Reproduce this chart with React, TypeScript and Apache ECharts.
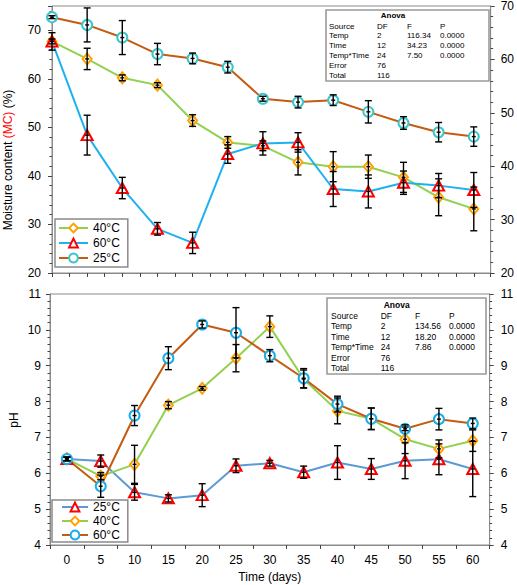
import React, { useEffect, useRef } from 'react';
import * as echarts from 'echarts';

const FONT = '"Liberation Sans", Arial, Helvetica, sans-serif';

// ---------- data ----------
const days = [0, 5, 10, 15, 20, 25, 30, 35, 40, 45, 50, 55, 60];
const dayLabels = ['0', '5', '10', '15', '20', '25', '30', '35', '40', '45', '50', '55', '60'];

// Moisture content (%)
const mc40 = [67.7, 64.1, 60.2, 58.7, 51.4, 46.9, 46.2, 42.8, 41.9, 41.9, 39.7, 35.6, 33.2];
const mc40Err = [0.5, 2.2, 0.6, 0.5, 1.2, 1.2, 1.0, 2.6, 3.1, 2.4, 3.1, 3.8, 4.5];
const mc60 = [67.7, 48.4, 37.5, 29.1, 26.2, 44.5, 46.7, 46.9, 37.3, 36.8, 38.6, 38.0, 37.1];
const mc60Err = [1.8, 4.1, 2.2, 1.3, 2.2, 1.9, 2.4, 2.0, 3.6, 3.4, 2.4, 2.5, 3.6];
const mc25 = [72.7, 71.1, 68.5, 65.1, 64.2, 62.4, 55.9, 55.2, 55.6, 53.2, 50.9, 49.0, 48.1];
const mc25Err = [0.3, 3.5, 3.5, 2.2, 1.1, 1.2, 0.5, 1.2, 1.1, 2.3, 1.3, 2.0, 2.0];

// pH
const ph25 = [6.40, 6.34, 5.47, 5.30, 5.39, 6.21, 6.28, 6.03, 6.30, 6.12, 6.35, 6.39, 6.12];
const ph25Err = [0.05, 0.17, 0.22, 0.1, 0.32, 0.19, 0.08, 0.17, 0.47, 0.29, 0.5, 0.43, 0.77];
const ph40 = [6.40, 5.92, 6.25, 7.90, 8.37, 9.21, 10.09, 8.63, 7.74, 7.52, 6.95, 6.68, 6.91];
const ph40Err = [0.05, 0.1, 0.53, 0.1, 0.05, 0.38, 0.3, 0.25, 0.36, 0.3, 0.4, 0.25, 0.3];
const ph60 = [6.40, 5.64, 7.61, 9.21, 10.15, 9.92, 9.28, 8.65, 7.93, 7.52, 7.24, 7.51, 7.39];
const ph60Err = [0.05, 0.31, 0.28, 0.32, 0.1, 0.7, 0.17, 0.27, 0.22, 0.3, 0.05, 0.3, 0.15];

const topLegend = ['40°C', '60°C', '25°C'];
const bottomLegend = ['pH 25°C', 'pH 40°C', 'pH 60°C'];

// ANOVA tables
const anovaTitle = 'Anova';
const anovaHeader = ['Source', 'DF', 'F', 'P'];
const anovaTopRows = [
  ['Temp', '2', '116.34', '0.0000'],
  ['Time', '12', '34.23', '0.0000'],
  ['Temp*Time', '24', '7.50', '0.0000'],
  ['Error', '76', '', ''],
  ['Total', '116', '', ''],
];
const anovaBottomRows = [
  ['Temp', '2', '134.56', '0.0000'],
  ['Time', '12', '18.20', '0.0000'],
  ['Temp*Time', '24', '7.86', '0.0000'],
  ['Error', '76', '', ''],
  ['Total', '116', '', ''],
];

const topYTicksMax = 70;

// ---------- helpers ----------
const errRows = (xs: number[], ys: number[], es: number[]) =>
  xs.map((x, i) => [x, ys[i] - es[i], ys[i] + es[i], ys[i]]);

const renderErr = (params: any, api: any) => {
  const x = api.value(0);
  const lo = api.coord([x, api.value(1)]);
  const hi = api.coord([x, api.value(2)]);
  const mid = api.coord([x, api.value(3)]);
  const w = 3.5;
  const style = { stroke: '#000', lineWidth: 1.4 };
  return {
    type: 'group',
    children: [
      { type: 'line', shape: { x1: hi[0], y1: hi[1], x2: lo[0], y2: lo[1] }, style },
      { type: 'line', shape: { x1: hi[0] - w, y1: hi[1], x2: hi[0] + w, y2: hi[1] }, style },
      { type: 'line', shape: { x1: lo[0] - w, y1: lo[1], x2: lo[0] + w, y2: lo[1] }, style },
      { type: 'line', shape: { x1: mid[0] - 2, y1: mid[1], x2: mid[0] + 2, y2: mid[1] }, style },
    ],
  };
};

const errSeries = (xi: number, yi: number, data: number[][]) => ({
  type: 'custom',
  xAxisIndex: xi,
  yAxisIndex: yi,
  renderItem: renderErr,
  data,
  encode: { x: 0, y: [1, 2] },
  z: 5,
  silent: true,
  clip: false,
});

const lineSeries = (
  name: string, xi: number, yi: number, data: any[], lineColor: string,
  symbol: string, symbolSize: any, markColor: string
) => ({
  name,
  type: 'line',
  xAxisIndex: xi,
  yAxisIndex: yi,
  data,
  symbol,
  symbolSize,
  showAllSymbol: true,
  lineStyle: { color: lineColor, width: 2 },
  itemStyle: { color: '#ffffff', borderColor: markColor, borderWidth: 2 },
  emphasis: { disabled: true },
  z: 3,
});

function anovaGraphic(
  box: number[], titleX: number, titleY: number, rowY0: number, step: number,
  colX: number[], fontSize: number, rows: string[][]
) {
  const els: any[] = [];
  els.push({
    type: 'rect',
    shape: { x: box[0], y: box[1], width: box[2], height: box[3] },
    style: { fill: '#fff', stroke: '#9a9a9a', lineWidth: 1.6 },
    z: 10,
  });
  els.push({
    type: 'text', x: titleX, y: titleY, z: 11,
    style: { text: anovaTitle, fill: '#000', font: `bold ${fontSize}px ${FONT}`, align: 'center', verticalAlign: 'middle' },
  });
  const all = [anovaHeader, ...rows];
  all.forEach((r, ri) => {
    r.forEach((cell, ci) => {
      if (!cell) return;
      els.push({
        type: 'text', x: colX[ci], y: rowY0 + ri * step, z: 11,
        style: { text: cell, fill: '#000', font: `${fontSize}px ${FONT}`, align: 'left', verticalAlign: 'middle' },
      });
    });
  });
  return els;
}

const axisGray = '#8a8a8a';
const tickCol = '#444';

const yAxisBase = (gridIndex: number, pos: string, min: number, max: number, interval: number, margin: number, fmt?: any) => ({
  gridIndex,
  type: 'value',
  position: pos,
  min,
  max,
  interval,
  axisLine: { show: true, lineStyle: { color: axisGray, width: 1 } },
  axisTick: { show: true, length: 4, lineStyle: { color: tickCol } },
  minorTick: { show: true, splitNumber: 5, length: 2.5, lineStyle: { color: tickCol } },
  axisLabel: { fontSize: 12, color: '#000', margin, fontFamily: FONT, formatter: fmt },
  splitLine: { show: false },
});

export default function App() {
  const ref = useRef<HTMLDivElement>(null);
  useEffect(() => {
    document.body.style.margin = '0';
    if (!ref.current) return;
    const chart = echarts.init(ref.current, undefined, { renderer: 'svg' });
    const option: any = {
      animation: false,
      textStyle: { fontFamily: FONT },
      grid: [
        { left: 52, right: 25, top: 5, height: 268, show: true, borderColor: axisGray, borderWidth: 1 },
        { left: 50, right: 26, top: 294, height: 251, show: true, borderColor: axisGray, borderWidth: 1 },
      ],
      xAxis: [
        {
          gridIndex: 0, type: 'value', min: 0, max: 62.4, interval: 5,
          axisLine: { show: true, lineStyle: { color: axisGray } },
          axisTick: { show: true, length: 4, lineStyle: { color: tickCol } },
          minorTick: { show: true, splitNumber: 2, length: 4, lineStyle: { color: tickCol } },
          axisLabel: { show: false },
          splitLine: { show: false },
        },
        {
          gridIndex: 1, type: 'category', data: dayLabels, boundaryGap: true,
          axisLine: { show: true, lineStyle: { color: axisGray } },
          axisTick: { show: true, length: 4, lineStyle: { color: tickCol } },
          axisLabel: { fontSize: 12, color: '#000', margin: 9, fontFamily: FONT },
          name: 'Time (days)', nameLocation: 'middle', nameGap: 26,
          nameTextStyle: { fontSize: 12, color: '#000', fontFamily: FONT },
          splitLine: { show: false },
        },
      ],
      yAxis: [
        yAxisBase(0, 'left', 20, 75, 10, 11, (v: number) => (v > topYTicksMax ? '' : String(v))),
        yAxisBase(0, 'right', 20, 70, 10, 10),
        yAxisBase(1, 'left', 4, 11, 1, 9),
        yAxisBase(1, 'right', 4, 11, 1, 11),
      ],
      legend: [
        {
          data: topLegend, orient: 'vertical', left: 55, top: 219,
          padding: [3, 8, 3, 3], itemGap: 3, itemWidth: 29, itemHeight: 11,
          backgroundColor: '#fff', borderColor: '#8a8a8a', borderWidth: 1.5,
          textStyle: { fontSize: 12, color: '#000', fontFamily: FONT },
          selectedMode: false,
        },
        {
          data: bottomLegend, orient: 'vertical', left: 52, top: 500,
          formatter: (n: string) => n.replace('pH ', ''),
          padding: [1, 8, 1, 9], itemGap: 2, itemWidth: 26, itemHeight: 11,
          backgroundColor: '#fff', borderColor: '#8a8a8a', borderWidth: 1.5,
          textStyle: { fontSize: 12, color: '#000', fontFamily: FONT },
          selectedMode: false,
        },
      ],
      series: [
        lineSeries('40°C', 0, 0, days.map((d, i) => [d, mc40[i]]), '#92d050', 'diamond', [9, 11], '#ffa200'),
        lineSeries('60°C', 0, 0, days.map((d, i) => [d, mc60[i]]), '#1fb1ee', 'triangle', [11, 10], '#ff0000'),
        lineSeries('25°C', 0, 0, days.map((d, i) => [d, mc25[i]]), '#c55a11', 'circle', 10, '#3cc6cc'),
        errSeries(0, 0, errRows(days, mc40, mc40Err)),
        errSeries(0, 0, errRows(days, mc60, mc60Err)),
        errSeries(0, 0, errRows(days, mc25, mc25Err)),
        lineSeries('pH 25°C', 1, 2, ph25, '#5b9bd5', 'triangle', [11, 10], '#ff0000'),
        lineSeries('pH 40°C', 1, 2, ph40, '#92d050', 'diamond', [9, 11], '#ffa200'),
        lineSeries('pH 60°C', 1, 2, ph60, '#c55a11', 'circle', 10, '#1aaee8'),
        errSeries(1, 2, errRows(days.map((_, i) => i), ph25, ph25Err)),
        errSeries(1, 2, errRows(days.map((_, i) => i), ph40, ph40Err)),
        errSeries(1, 2, errRows(days.map((_, i) => i), ph60, ph60Err)),
      ],
      graphic: [
        {
          type: 'text', x: 8, y: 160, rotation: Math.PI / 2,
          style: {
            text: 'Moisture content {r|(MC)} (%)',
            fill: '#000', fontSize: 12, fontFamily: FONT,
            align: 'center', verticalAlign: 'middle',
            rich: { r: { fill: '#ff0000', fontSize: 12, fontFamily: FONT } },
          },
        },
        {
          type: 'text', x: 14, y: 420, rotation: Math.PI / 2,
          style: { text: 'pH', fill: '#000', fontSize: 12, fontFamily: FONT, align: 'center', verticalAlign: 'middle' },
        },
        ...anovaGraphic([326, 10, 163, 71], 393, 15.7, 26, 9.8, [329, 377, 407, 440], 8, anovaTopRows),
        ...anovaGraphic([327, 298, 159, 76], 396.7, 305, 315.7, 10.5, [331, 380.7, 415, 449], 8.5, anovaBottomRows),
      ],
    };
    chart.setOption(option);
    return () => chart.dispose();
  }, []);
  return <div ref={ref} style={{ width: 517, height: 585 }} />;
}
